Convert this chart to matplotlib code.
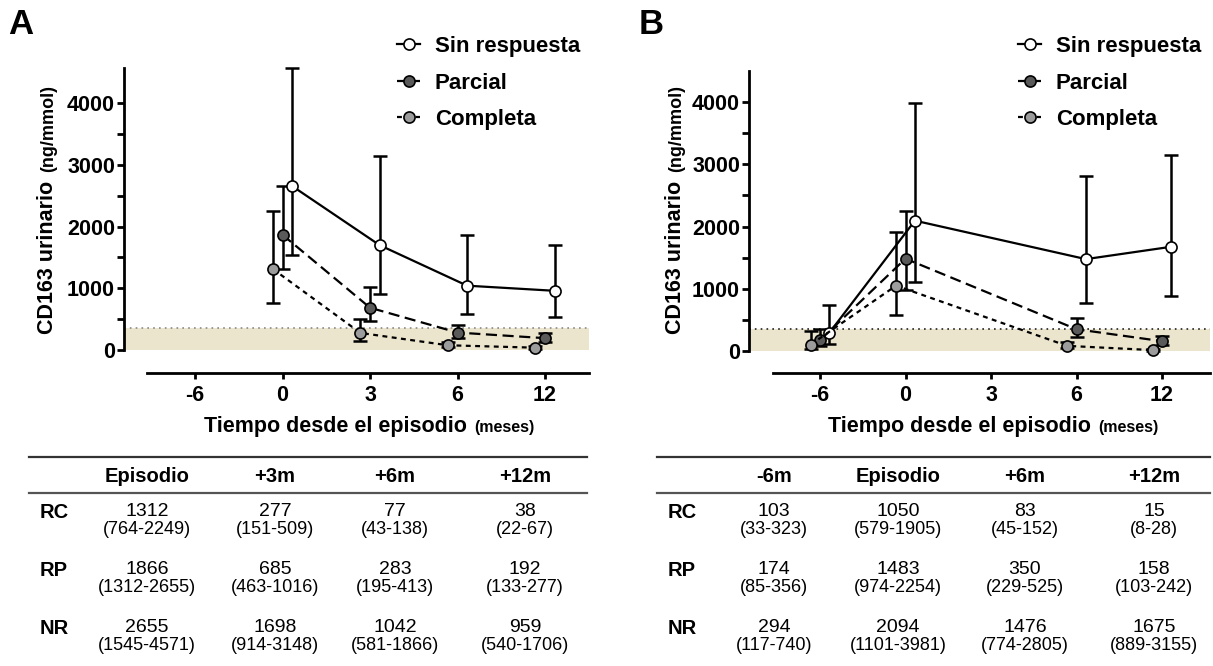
import matplotlib
matplotlib.use("Agg")
import matplotlib.pyplot as plt
from matplotlib.lines import Line2D

plt.rcParams['font.family'] = ['Liberation Sans', 'DejaVu Sans']

# categorias del eje x (equiespaciadas)
time_ticks = ['-6', '0', '3', '6', '12']

# Panel A: episodio, +3m, +6m, +12m
a_pos = [1, 2, 3, 4]
a_cols = ['Episodio', '+3m', '+6m', '+12m']
a_rc = [1312, 277, 77, 38]
a_rc_lo = [764, 151, 43, 22]
a_rc_hi = [2249, 509, 138, 67]
a_rp = [1866, 685, 283, 192]
a_rp_lo = [1312, 463, 195, 133]
a_rp_hi = [2655, 1016, 413, 277]
a_nr = [2655, 1698, 1042, 959]
a_nr_lo = [1545, 914, 581, 540]
a_nr_hi = [4571, 3148, 1866, 1706]

# Panel B: -6m, episodio, +6m, +12m
b_pos = [0, 1, 3, 4]
b_cols = ['-6m', 'Episodio', '+6m', '+12m']
b_rc = [103, 1050, 83, 15]
b_rc_lo = [33, 579, 45, 8]
b_rc_hi = [323, 1905, 152, 28]
b_rp = [174, 1483, 350, 158]
b_rp_lo = [85, 974, 229, 103]
b_rp_hi = [356, 2254, 525, 242]
b_nr = [294, 2094, 1476, 1675]
b_nr_lo = [117, 1101, 774, 889]
b_nr_hi = [740, 3981, 2805, 3155]

normal_limit = 356

W, H = 1213, 666
fig = plt.figure(figsize=(W / 100, H / 100), dpi=100)

BAND = '#ece5cd'
styles = {
    'NR': dict(color='black', lw=1.6, ls='-', mfc='white'),
    'RP': dict(color='black', lw=1.6, ls=(0, (5, 2.5)), mfc='#5a5a5a'),
    'RC': dict(color='black', lw=1.6, ls=(0, (2.2, 2)), mfc='#9c9c9c'),
}
offsets = {'NR': 0.11, 'RP': 0.0, 'RC': -0.11}


def fx(px):
    return px / W


def fy(py):
    return 1 - py / H


def panel(left, right, x0px, step, xaxis_start, ylo, yhi, ytop, series, dot_color, letter, letter_x,
          ylab_x, leg_x, xlab_main_end, xlab_y):
    ax = fig.add_axes([fx(left), fy(373), (right - left) / W, (373 - 66) / H])
    ax.set_xlim((left - x0px) / step, (right - x0px) / step)
    ax.set_ylim(ylo, yhi)
    ax.axhspan(0, normal_limit, color=BAND, zorder=0, lw=0)
    ax.axhline(normal_limit, color=dot_color, ls=(0, (1, 2.5)), lw=1.2, zorder=1)

    for key in ['NR', 'RP', 'RC']:
        pos, val, lo, hi = series[key]
        xs = [p + offsets[key] for p in pos]
        err = [[v - l for v, l in zip(val, lo)], [h - v for v, h in zip(val, hi)]]
        st = styles[key]
        ax.errorbar(xs, val, yerr=err, fmt='none', ecolor='black', elinewidth=1.8,
                    capsize=5, capthick=1.8, zorder=3)
        ax.plot(xs, val, color=st['color'], lw=st['lw'], ls=st['ls'], marker='o', ms=8,
                mfc=st['mfc'], mec='black', mew=1.2, zorder=4)

    for s in ['top', 'right']:
        ax.spines[s].set_visible(False)
    ax.spines['left'].set_linewidth(2)
    ax.spines['bottom'].set_linewidth(2)
    ax.spines['left'].set_bounds(0, ytop)
    ax.spines['bottom'].set_bounds((xaxis_start - x0px) / step, (right - x0px) / step)
    ax.set_yticks([0, 1000, 2000, 3000, 4000])
    ax.set_yticks(range(500, 4500, 1000), minor=True)
    ax.set_xticks(range(len(time_ticks)))
    ax.set_xticklabels(time_ticks)
    ax.tick_params(axis='y', which='both', length=5, width=2, pad=1.5, labelsize=15.5)
    ax.tick_params(axis='x', length=4.5, width=2, pad=4, labelsize=15.5)
    for lab in ax.get_xticklabels() + ax.get_yticklabels():
        lab.set_fontweight('bold')

    fig.text(fx(letter_x), fy(25), letter, fontsize=25, fontweight='bold', va='center', ha='left')

    fig.text(fx(ylab_x), fy(257), 'CD163 urinario', rotation=90, rotation_mode='anchor',
             ha='center', va='baseline', fontsize=15.5, fontweight='bold')
    fig.text(fx(ylab_x), fy(129), '(ng/mmol)', rotation=90, rotation_mode='anchor',
             ha='center', va='baseline', fontsize=13, fontweight='bold')

    fig.text(fx(xlab_main_end), fy(xlab_y), 'Tiempo desde el episodio', ha='right', va='baseline',
             fontsize=15.5, fontweight='bold')
    fig.text(fx(xlab_main_end + 7), fy(xlab_y), '(meses)', ha='left', va='baseline',
             fontsize=11.5, fontweight='bold')

    handles = []
    for key in ['NR', 'RP', 'RC']:
        st = styles[key]
        handles.append(Line2D([], [], color='black', lw=st['lw'], ls=st['ls'], marker='o', ms=8,
                              mfc=st['mfc'], mec='black', mew=1.2))
    fig.legend(handles, ['Sin respuesta', 'Parcial', 'Completa'], loc='upper left',
               bbox_to_anchor=(fx(leg_x), fy(36)), frameon=False,
               prop=dict(weight='bold', size=16), handlelength=1.05, handletextpad=0.65,
               labelspacing=0.7, borderpad=0, borderaxespad=0)
    return ax


def table(x0, x1, label_x, col_x, cols, rows):
    for y, c in [(457, '#333333'), (493, '#555555')]:
        fig.add_artist(Line2D([fx(x0), fx(x1)], [fy(y), fy(y)], color=c, lw=1.6,
                              transform=fig.transFigure))
    for cx, name in zip(col_x, cols):
        fig.text(fx(cx), fy(477), name, ha='center', va='center', fontsize=14.5, fontweight='bold')
    for (name, val, lo, hi), ry in zip(rows, [512, 570, 628]):
        fig.text(fx(label_x), fy(ry), name, ha='left', va='center', fontsize=14.5, fontweight='bold')
        for cx, v, l, h in zip(col_x, val, lo, hi):
            fig.text(fx(cx), fy(ry), str(v), ha='center', va='center', fontsize=14)
            fig.text(fx(cx), fy(ry + 18), f'({l}-{h})', ha='center', va='center', fontsize=13)


series_a = {
    'NR': (a_pos, a_nr, a_nr_lo, a_nr_hi),
    'RP': (a_pos, a_rp, a_rp_lo, a_rp_hi),
    'RC': (a_pos, a_rc, a_rc_lo, a_rc_hi),
}
series_b = {
    'NR': (b_pos, b_nr, b_nr_lo, b_nr_hi),
    'RP': (b_pos, b_rp, b_rp_lo, b_rp_hi),
    'RC': (b_pos, b_rc, b_rc_lo, b_rc_hi),
}

panel(124, 589, 195, 87.5, 147, -372, 4599, 4571, series_a, '#888888', 'A', 8,
      53, 397, 467, 432)
panel(749, 1210, 820, 85.5, 773, -353, 4578, 4500, series_b, '#222222', 'B', 639,
      681, 1018, 1091, 432)

table(29, 587, 40, [147, 275, 395, 525], a_cols,
      [('RC', a_rc, a_rc_lo, a_rc_hi), ('RP', a_rp, a_rp_lo, a_rp_hi), ('NR', a_nr, a_nr_lo, a_nr_hi)])
table(657, 1210, 668, [774, 898, 1025, 1154], b_cols,
      [('RC', b_rc, b_rc_lo, b_rc_hi), ('RP', b_rp, b_rp_lo, b_rp_hi), ('NR', b_nr, b_nr_lo, b_nr_hi)])

fig.savefig('out.png', dpi=100)
